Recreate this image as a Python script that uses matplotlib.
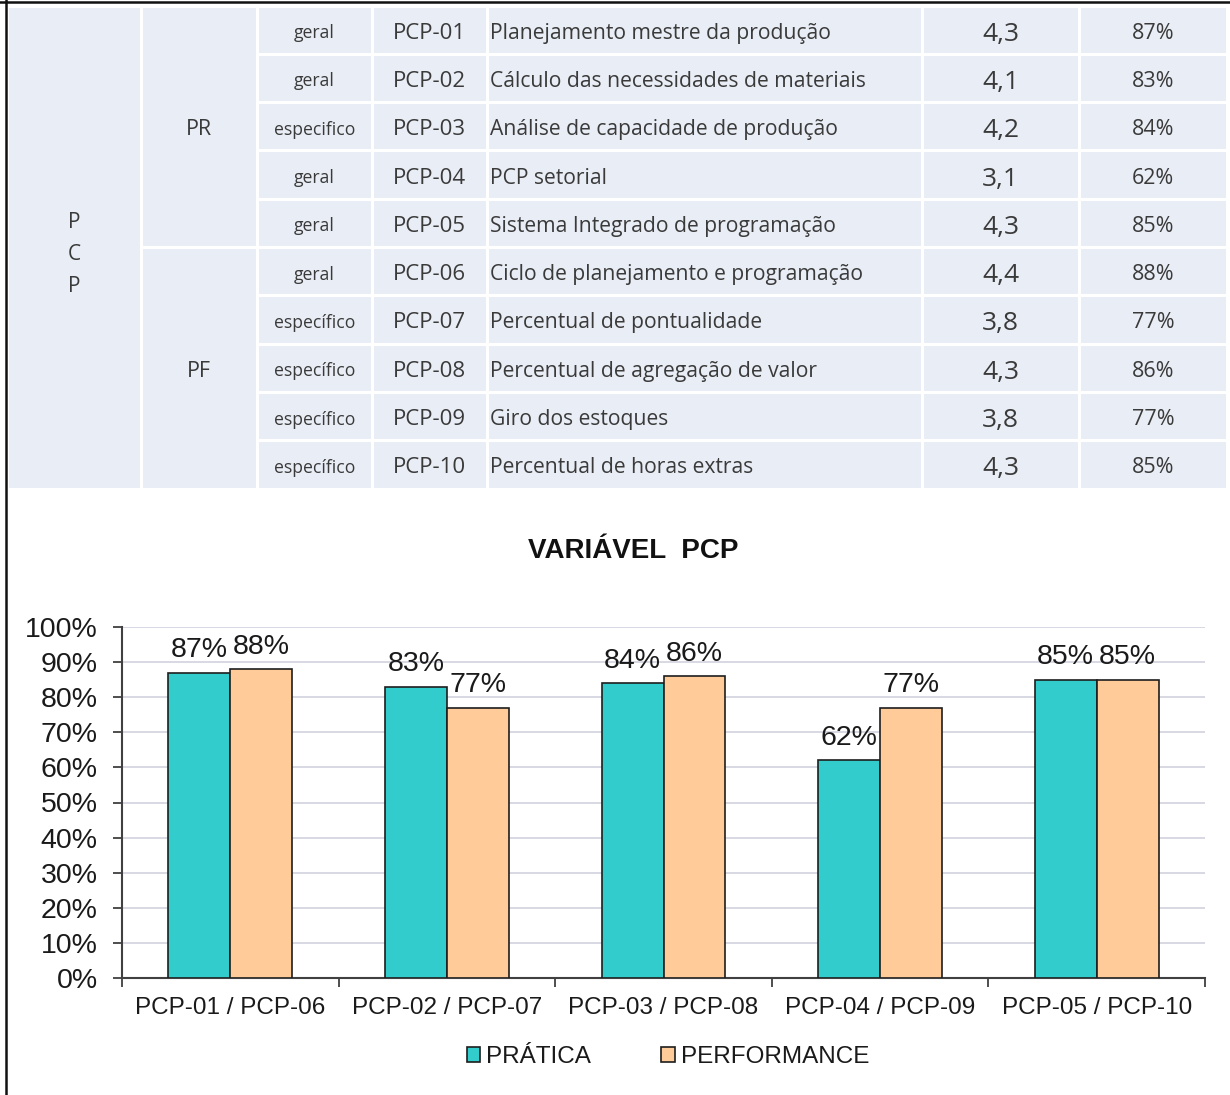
import matplotlib
matplotlib.use("Agg")
import matplotlib.pyplot as plt
from matplotlib.patches import Rectangle
from matplotlib.ticker import FixedLocator, PercentFormatter
import numpy as np

# ---- indicator table ----
variavel = "P\nC\nP"
blocos = ["PR", "PF"]
tipos = ["geral", "geral", "especifico", "geral", "geral",
         "geral", "específico", "específico", "específico", "específico"]
codigos = ["PCP-01", "PCP-02", "PCP-03", "PCP-04", "PCP-05",
           "PCP-06", "PCP-07", "PCP-08", "PCP-09", "PCP-10"]
descricoes = ["Planejamento mestre da produção",
              "Cálculo das necessidades de materiais",
              "Análise de capacidade de produção",
              "PCP setorial",
              "Sistema Integrado de programação",
              "Ciclo de planejamento e programação",
              "Percentual de pontualidade",
              "Percentual de agregação de valor",
              "Giro dos estoques",
              "Percentual de horas extras"]
notas = [4.3, 4.1, 4.2, 3.1, 4.3, 4.4, 3.8, 4.3, 3.8, 4.3]

# ---- chart series ----
categorias = ["PCP-01 / PCP-06", "PCP-02 / PCP-07", "PCP-03 / PCP-08",
              "PCP-04 / PCP-09", "PCP-05 / PCP-10"]
pratica = [0.87, 0.83, 0.84, 0.62, 0.85]
performance = [0.88, 0.77, 0.86, 0.77, 0.85]
series_nomes = ["PRÁTICA", "PERFORMANCE"]
titulo = "VARIÁVEL  PCP"

percentuais = pratica + performance

W, H = 1230, 1095
fig = plt.figure(figsize=(W / 100, H / 100), dpi=100)
fig.patch.set_facecolor("white")

# overlay in pixel units for the table and frame
bg = fig.add_axes([0, 0, 1, 1])
bg.set_xlim(0, W)
bg.set_ylim(H, 0)
bg.axis("off")

cell_bg = "#E9EDF5"
txt_col = "#3A3A3A"
tfont = "Open Sans"

col_edges = [7, 141, 257, 372, 487, 922, 1079, 1227]
row_top, row_h = 6, 48.3
nrows = len(codigos)
row_edges = [row_top + i * row_h for i in range(nrows + 1)]
gap = 1.5
dy = 3  # text baseline nudge inside cells

def cell(c0, c1, r0, r1):
    x0 = col_edges[c0] + gap
    x1 = col_edges[c1] - gap
    y0 = row_edges[r0] + gap
    y1 = row_edges[r1] - gap
    bg.add_patch(Rectangle((x0, y0), x1 - x0, y1 - y0, facecolor=cell_bg,
                           edgecolor="none", zorder=1))
    return (x0 + x1) / 2, (y0 + y1) / 2

cx, cy = cell(0, 1, 0, nrows)
bg.text(cx, cy + 7, variavel, ha="center", va="center", fontsize=15,
        family=tfont, color=txt_col, linespacing=1.68, zorder=2)
for b, nome in enumerate(blocos):
    cx, cy = cell(1, 2, b * 5, b * 5 + 5)
    bg.text(cx, cy + dy, nome, ha="center", va="center", fontsize=15.5,
            family=tfont, color=txt_col, zorder=2)

for i in range(nrows):
    cx, cy = cell(2, 3, i, i + 1)
    bg.text(cx, cy + dy, tipos[i], ha="center", va="center", fontsize=12.7,
            family=tfont, color=txt_col, zorder=2)
    cx, cy = cell(3, 4, i, i + 1)
    bg.text(cx, cy + dy, codigos[i], ha="center", va="center", fontsize=16,
            family=tfont, color=txt_col, zorder=2)
    cx, cy = cell(4, 5, i, i + 1)
    bg.text(col_edges[4] + 3, cy + dy, descricoes[i], ha="left", va="center",
            fontsize=15.2, family=tfont, color=txt_col, zorder=2)
    cx, cy = cell(5, 6, i, i + 1)
    bg.text(cx, cy + dy + 1, f"{notas[i]:.1f}".replace(".", ","), ha="center",
            va="center", fontsize=19, family=tfont, color=txt_col, zorder=2)
    cx, cy = cell(6, 7, i, i + 1)
    bg.text(cx, cy + dy, f"{round(percentuais[i] * 100)}%", ha="center",
            va="center", fontsize=15.5, family=tfont, color=txt_col, zorder=2)

# frame lines on the left and top edges
bg.plot([5.5, 5.5], [0, H], color="#111111", lw=1.8, zorder=3)
bg.plot([0, W], [2, 2], color="#111111", lw=1.8, zorder=3)

bg.text(633, 551, titulo, ha="center", va="center", fontsize=20,
        fontweight="bold", family="Liberation Sans", color="#111111")

# ---- bar chart ----
ax = fig.add_axes([122 / W, 1 - 978 / H, (1205 - 122) / W, (978 - 627) / H])
ax.set_facecolor("none")
x = np.arange(len(categorias))
bw = 0.286
teal = "#33CCCC"
tan = "#FFCC99"
b1 = ax.bar(x - bw / 2, pratica, bw, color=teal, edgecolor="#1E1E1E",
            linewidth=1.2, label=series_nomes[0], zorder=3)
b2 = ax.bar(x + bw / 2, performance, bw, color=tan, edgecolor="#1E1E1E",
            linewidth=1.2, label=series_nomes[1], zorder=3)

for bars, vals in ((b1, pratica), (b2, performance)):
    for rect, v in zip(bars, vals):
        ax.annotate(f"{round(v * 100)}%",
                    (rect.get_x() + rect.get_width() / 2, v),
                    xytext=(0, 11), textcoords="offset points",
                    ha="center", va="baseline", fontsize=20.5,
                    family="Liberation Sans", color="#1A1A1A")

ax.set_xlim(-0.5, len(categorias) - 0.5)
ax.set_ylim(0, 1)
ax.yaxis.set_major_locator(FixedLocator(np.linspace(0, 1, 11)))
ax.yaxis.set_major_formatter(PercentFormatter(1.0, decimals=0))
ax.set_xticks(x)
ax.set_xticklabels(categorias)
ax.xaxis.set_minor_locator(FixedLocator(np.arange(-0.5, len(categorias), 1.0)))
ax.tick_params(axis="x", which="major", length=0, pad=14)
ax.tick_params(axis="x", which="minor", length=6.5, width=1.3,
               color="#404040", direction="out")
ax.tick_params(axis="y", length=6.5, width=1.3, color="#404040", pad=11)
for lab in ax.get_xticklabels():
    lab.set_fontsize(17.5)
    lab.set_family("Liberation Sans")
    lab.set_color("#1A1A1A")
for lab in ax.get_yticklabels():
    lab.set_fontsize(20.5)
    lab.set_family("Liberation Sans")
    lab.set_color("#1A1A1A")

ax.grid(axis="y", color="#D8D8E4", linewidth=1.4, zorder=0)
ax.set_axisbelow(True)
for s in ("top", "right"):
    ax.spines[s].set_visible(False)
for s in ("left", "bottom"):
    ax.spines[s].set_color("#404040")
    ax.spines[s].set_linewidth(1.5)

leg = fig.legend(handles=[b1, b2], labels=series_nomes, loc="center",
                 bbox_to_anchor=(668 / W, 1 - 1057 / H), ncol=2,
                 frameon=False, handlelength=0.55, handleheight=0.55,
                 handletextpad=0.25, columnspacing=2.9,
                 prop={"family": "Liberation Sans", "size": 17.5})
for t in leg.get_texts():
    t.set_color("#1A1A1A")

fig.savefig("out.png", dpi=100, facecolor="white")
